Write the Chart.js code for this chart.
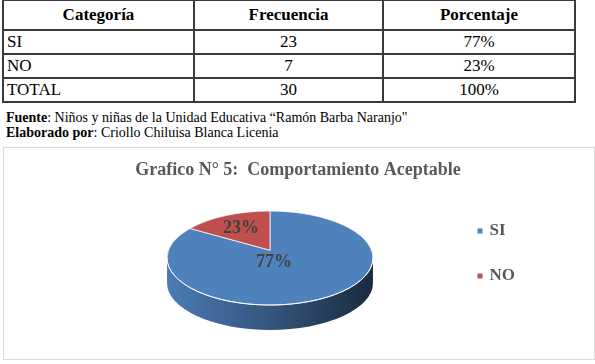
<!DOCTYPE html>
<html>
<head>
<meta charset="utf-8">
<script src="https://cdn.jsdelivr.net/npm/chart.js@4.4.1/dist/chart.umd.min.js"></script>
<style>
html,body{margin:0;padding:0;background:#fff;width:595px;height:364px;overflow:hidden;font-family:"Liberation Serif","Times New Roman",serif;}
#tbl{position:absolute;left:2px;top:-1px;border-collapse:collapse;table-layout:fixed;width:572px;}
#tbl th,#tbl td{font-family:"Liberation Serif","Times New Roman",serif;border:2px solid #3a3a3a;padding:0;color:#000;font-size:17px;line-height:20px;text-align:center;overflow:hidden;white-space:nowrap;}
#tbl th{height:28px;font-weight:bold;}
#tbl td{height:22px;}
#tbl td.first{text-align:left;padding-left:3px;}
#notes{position:absolute;left:6px;top:110px;font-family:"Liberation Serif","Times New Roman",serif;font-size:14px;line-height:15px;color:#000;white-space:nowrap;}
#box{position:absolute;left:3px;top:147px;width:590px;height:211px;border:1px solid #d9d9d9;}
#c{position:absolute;left:0;top:0;}
</style>
</head>
<body>
<table id="tbl">
<colgroup><col style="width:191px"><col style="width:189px"><col style="width:192px"></colgroup>
<thead><tr id="hd"></tr></thead>
<tbody id="tb"></tbody>
</table>
<div id="notes">
<div><b>Fuente</b>: Niños y niñas de la Unidad Educativa “Ramón Barba Naranjo"</div>
<div><b>Elaborado por</b>: Criollo Chiluisa Blanca Licenia</div>
</div>
<div id="box"><canvas id="c" width="590" height="211"></canvas></div>
<script>
// ---- data ----
const headers = ['Categoría', 'Frecuencia', 'Porcentaje'];
const categories = ['SI', 'NO'];
const frecuencia = [23, 7];
const porcentaje = ['77%', '23%'];
const totalLabel = 'TOTAL';
const totalFrecuencia = 30;
const totalPorcentaje = '100%';
const chartTitle = 'Grafico N° 5:  Comportamiento Aceptable';

// ---- table ----
const hd = document.getElementById('hd');
headers.forEach(h => { const th = document.createElement('th'); th.textContent = h; hd.appendChild(th); });
const tb = document.getElementById('tb');
function addRow(a, b, c) {
  const tr = document.createElement('tr');
  [a, b, c].forEach((v, i) => { const td = document.createElement('td'); td.textContent = v; if (i === 0) td.className = 'first'; tr.appendChild(td); });
  tb.appendChild(tr);
}
categories.forEach((c, i) => addRow(c, frecuencia[i], porcentaje[i]));
addRow(totalLabel, totalFrecuencia, totalPorcentaje);

// ---- chart ----
const colors = ['#4f81bd', '#c0504d'];
const SERIF = '"Liberation Serif","Times New Roman",serif';
const E = 0.70;           // perspective warp of angles
const SX = 1.32, SY = 0.603, SD = 0.32, APEX = 0.1;

function warp(theta) {
  if (theta >= 2 * Math.PI - 1e-9) return 2 * Math.PI;
  if (theta <= 1e-9) return 0;
  let p = Math.atan2(Math.sin(theta), Math.cos(theta) + E);
  if (p < 0) p += 2 * Math.PI;
  return p;
}
function shade(hex, f) {
  const n = parseInt(hex.slice(1), 16);
  const r = Math.round(((n >> 16) & 255) * f), g = Math.round(((n >> 8) & 255) * f), b = Math.round((n & 255) * f);
  return `rgb(${r},${g},${b})`;
}

const pie3d = {
  id: 'pie3d',
  beforeDatasetsDraw(chart) {
    const meta = chart.getDatasetMeta(0);
    const ctx = chart.ctx;
    const a0 = meta.data[0];
    const r = a0.outerRadius;
    const rx = r * SX, ry = r * SY, depth = r * SD;
    const cx = a0.x, cy = a0.y - depth / 2;
    const ax = cx, ay = cy - r * APEX;
    const pt = (p, dy) => [cx + rx * Math.sin(p), cy + (dy || 0) - ry * Math.cos(p)];
    const slices = meta.data.map((arc, i) => ({
      p1: warp(arc.startAngle + Math.PI / 2),
      p2: warp(arc.endAngle + Math.PI / 2),
      color: colors[i]
    }));
    ctx.save();
    // side walls (front half only)
    slices.forEach(s => {
      const a = Math.max(s.p1, Math.PI / 2), b = Math.min(s.p2, 3 * Math.PI / 2);
      if (a >= b) return;
      const g = ctx.createLinearGradient(cx - rx, 0, cx + rx, 0);
      g.addColorStop(0, shade(s.color, 0.95));
      g.addColorStop(0.5, shade(s.color, 0.66));
      g.addColorStop(1, shade(s.color, 0.33));
      ctx.beginPath();
      ctx.ellipse(cx, cy, rx, ry, 0, a - Math.PI / 2, b - Math.PI / 2, false);
      const e = pt(b, depth);
      ctx.lineTo(e[0], e[1]);
      ctx.ellipse(cx, cy + depth, rx, ry, 0, b - Math.PI / 2, a - Math.PI / 2, true);
      ctx.closePath();
      ctx.fillStyle = g;
      ctx.fill();
    });
    // top faces
    slices.forEach(s => {
      ctx.beginPath();
      ctx.moveTo(ax, ay);
      const p = pt(s.p1);
      ctx.lineTo(p[0], p[1]);
      ctx.ellipse(cx, cy, rx, ry, 0, s.p1 - Math.PI / 2, s.p2 - Math.PI / 2, false);
      ctx.closePath();
      ctx.fillStyle = s.color;
      ctx.fill();
      ctx.strokeStyle = 'rgba(255,255,255,0.75)';
      ctx.lineWidth = 1;
      ctx.stroke();
    });
    // front highlight edge
    ctx.beginPath();
    ctx.ellipse(cx, cy, rx, ry, 0, 0, Math.PI, false);
    ctx.strokeStyle = 'rgba(255,255,255,0.85)';
    ctx.lineWidth = 1;
    ctx.stroke();
    // labels at slice centroids
    ctx.fillStyle = '#404040';
    ctx.font = 'bold 18px ' + SERIF;
    ctx.textAlign = 'center';
    ctx.textBaseline = 'middle';
    slices.forEach((s, i) => {
      const poly = [[ax, ay]];
      const N = 60;
      for (let k = 0; k <= N; k++) poly.push(pt(s.p1 + (s.p2 - s.p1) * k / N));
      let A = 0, X = 0, Y = 0;
      for (let k = 0; k < poly.length; k++) {
        const [x0, y0] = poly[k], [x1, y1] = poly[(k + 1) % poly.length];
        const cr = x0 * y1 - x1 * y0;
        A += cr; X += (x0 + x1) * cr; Y += (y0 + y1) * cr;
      }
      A /= 2; X /= (6 * A); Y /= (6 * A);
      ctx.fillText(porcentaje[i], X, Y);
    });
    ctx.restore();
    return false;
  },
  afterDraw(chart) {
    // small square legend markers next to the library's legend text
    const lg = chart.legend;
    if (!lg || !lg.legendHitBoxes) return;
    const ctx = chart.ctx;
    ctx.save();
    lg.legendHitBoxes.forEach((h, i) => {
      ctx.fillStyle = colors[i];
      ctx.fillRect(h.left - 2.5, h.top + h.height / 2 - 2.5, 5, 5);
    });
    ctx.restore();
  }
};

const baseGen = Chart.overrides.pie.plugins.legend.labels.generateLabels;

new Chart(document.getElementById('c'), {
  type: 'pie',
  data: {
    labels: categories,
    datasets: [{ data: frecuencia, backgroundColor: colors, borderWidth: 0, radius: 78 }]
  },
  options: {
    responsive: false,
    animation: false,
    layout: { padding: { left: 67, right: 69, top: 0, bottom: 0 } },
    plugins: {
      title: {
        display: true, text: chartTitle, color: '#595959',
        font: { family: SERIF, size: 18, weight: 'bold' },
        padding: { top: 12, bottom: 0.4 }
      },
      legend: {
        position: 'right', align: 'center',
        labels: {
          color: '#595959', boxWidth: 1, boxHeight: 34, padding: 11,
          font: { family: SERIF, size: 17, weight: 'bold' },
          generateLabels(chart) {
            return baseGen(chart).map(it => Object.assign(it, {
              fillStyle: 'rgba(0,0,0,0)', strokeStyle: 'rgba(0,0,0,0)', lineWidth: 0
            }));
          }
        }
      },
      tooltip: { enabled: false }
    }
  },
  plugins: [pie3d]
});
</script>
</body>
</html>
